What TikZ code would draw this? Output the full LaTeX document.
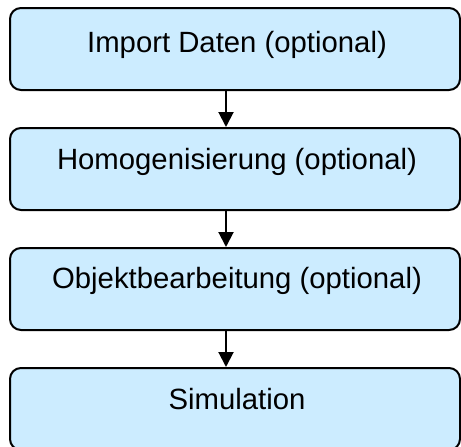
\documentclass[tikz,border=0pt]{standalone}
\usepackage{fontspec}
\setmainfont{Liberation Sans}
\usetikzlibrary{arrows.meta}
\definecolor{boxfill}{RGB}{204,236,255}
\begin{document}
\begin{tikzpicture}[x=1pt,y=-1pt,
  stepbox/.style={draw=black, line width=2pt, fill=boxfill, rounded corners=11pt,
    rectangle, minimum width=450pt, minimum height=82pt, inner sep=0pt},
  lbl/.style={anchor=base, inner sep=0pt, font=\fontsize{29.3}{35}\selectfont},
  flow/.style={line width=2pt, -{Triangle[length=15pt,width=15pt]}}]
  \useasboundingbox (0,0) rectangle (461,447);
  % process steps
  \node[stepbox] (b1) at (235,49) {};
  \node[stepbox] (b2) at (235,169) {};
  \node[stepbox] (b3) at (235,289) {};
  \node[stepbox] (b4) at (235,409) {};
  % step captions
  \node[lbl] (t1) at (237,52) {Import Daten (optional)};
  \node[lbl] (t2) at (237,169) {Homogenisierung (optional)};
  \node[lbl] (t3) at (237,288) {Objektbearbeitung (optional)};
  \node[lbl] (t4) at (237,409) {Simulation};
  % connectors
  \draw[flow] ([xshift=-9pt]b1.south) -- ([xshift=-9pt]b2.north);
  \draw[flow] ([xshift=-9pt]b2.south) -- ([xshift=-9pt]b3.north);
  \draw[flow] ([xshift=-9pt]b3.south) -- ([xshift=-9pt]b4.north);
\end{tikzpicture}
\end{document}
